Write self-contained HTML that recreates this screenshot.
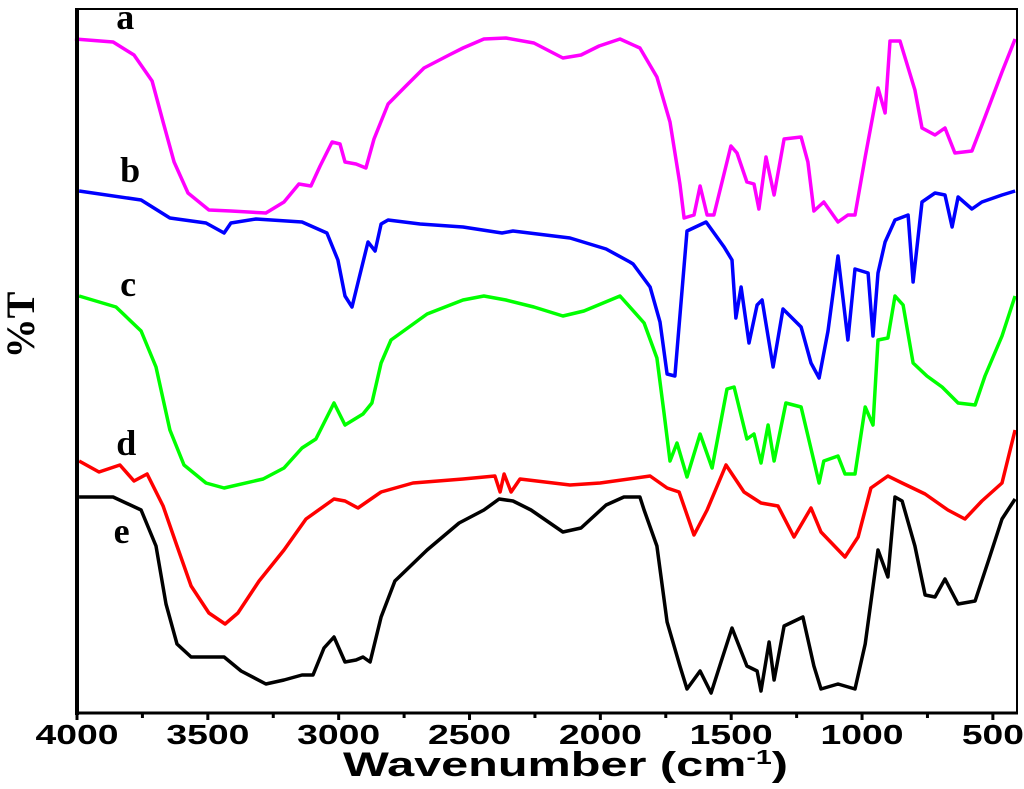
<!DOCTYPE html>
<html><head><meta charset="utf-8"><style>
html,body{margin:0;padding:0;background:#fff;}
svg{display:block;}
</style></head><body>
<svg id="chart" width="1024" height="789" viewBox="0 0 1024 789" xmlns="http://www.w3.org/2000/svg">
  <rect x="0" y="0" width="1024" height="789" fill="#fff"/>
  <g id="plot"></g>
  <rect x="77" y="9" width="940" height="704" fill="none" stroke="#000" stroke-width="2"/>
  <line x1="77" y1="8" x2="77" y2="715" stroke="#000" stroke-width="4"/>
  <line x1="75" y1="713" x2="1018" y2="713" stroke="#000" stroke-width="3"/>
  <g id="ticks"></g>
  <text x="343" y="776" font-family="Liberation Sans, sans-serif" font-weight="bold" font-size="34" textLength="445" lengthAdjust="spacingAndGlyphs">Wavenumber (cm<tspan font-size="20" dy="-12">-1</tspan><tspan dy="12">)</tspan></text>
  <text transform="translate(34,325) rotate(-90)" text-anchor="middle" font-family="Liberation Serif, serif" font-weight="bold" font-size="40">%T</text>
  <g id="labels"></g>
</svg>
<script>
const xTicks = [4000, 3500, 3000, 2500, 2000, 1500, 1000, 500];
const xMinorTicks = [3750, 3250, 2750, 2250, 1750, 1250, 750];
const seriesNames = ['a', 'b', 'c', 'd', 'e'];
const seriesColors = ['#ff00ff', '#0000ff', '#00ff00', '#ff0000', '#000000'];
const seriesA = [[4008,674],[3862,671],[3782,658],[3713,632],[3671,591],[3629,551],[3576,520],[3496,503],[3412,502],[3278,500],[3209,511],[3152,529],[3106,527],[3071,547],[3025,571],[2995,569],[2976,551],[2934,549],[2896,545],[2865,574],[2811,609],[2743,627],[2674,645],[2578,658],[2525,665],[2445,674],[2361,675],[2254,670],[2143,655],[2074,658],[2005,667],[1925,674],[1849,665],[1784,636],[1734,591],[1696,529],[1680,495],[1642,498],[1619,527],[1592,498],[1566,498],[1501,567],[1478,560],[1440,531],[1413,529],[1394,504],[1367,556],[1336,518],[1298,574],[1233,576],[1207,551],[1184,502],[1146,511],[1092,491],[1054,498],[1027,498],[988,556],[939,625],[912,600],[893,672],[855,672],[798,623],[771,585],[721,578],[683,585],[645,560],[580,562],[530,596],[465,641],[415,674]];
const seriesB = [[3992,522],[3755,513],[3645,495],[3507,490],[3438,480],[3412,490],[3316,494],[3140,491],[3045,480],[3003,453],[2976,417],[2949,406],[2922,435],[2888,471],[2861,462],[2838,489],[2811,493],[2689,489],[2525,486],[2376,480],[2334,482],[2116,475],[1978,464],[1887,451],[1875,449],[1810,426],[1772,391],[1745,339],[1715,337],[1669,482],[1596,491],[1527,466],[1497,453],[1482,395],[1462,426],[1432,370],[1401,408],[1382,413],[1340,346],[1302,404],[1233,386],[1195,350],[1164,335],[1130,382],[1092,457],[1054,373],[1027,444],[977,440],[958,377],[939,440],[912,471],[874,493],[824,498],[805,431],[771,511],[721,520],[683,518],[656,486],[633,516],[580,504],[542,511],[465,518],[415,522]];
const seriesC = [[3992,417],[3851,406],[3755,382],[3698,346],[3645,283],[3591,248],[3507,230],[3438,225],[3289,234],[3209,245],[3140,265],[3087,274],[3018,310],[2976,288],[2907,299],[2873,310],[2838,350],[2800,373],[2662,399],[2525,413],[2445,417],[2361,413],[2254,406],[2143,397],[2063,402],[1925,417],[1833,390],[1784,355],[1757,301],[1734,252],[1707,270],[1669,236],[1619,279],[1573,245],[1516,324],[1489,326],[1440,274],[1413,279],[1386,250],[1359,288],[1336,252],[1291,310],[1233,306],[1184,252],[1164,230],[1146,252],[1092,257],[1065,239],[1027,239],[988,306],[958,288],[939,373],[901,375],[874,417],[843,408],[805,350],[752,337],[694,326],[633,310],[568,308],[530,337],[465,377],[415,417]];
const seriesD = [[3992,252],[3916,241],[3836,248],[3782,232],[3732,239],[3671,207],[3618,167],[3564,127],[3496,100],[3434,89],[3385,100],[3304,132],[3209,163],[3125,194],[3018,214],[2976,212],[2926,205],[2838,221],[2716,230],[2525,234],[2403,237],[2383,221],[2368,239],[2341,221],[2307,234],[2116,228],[2001,230],[1810,237],[1745,225],[1699,221],[1642,178],[1592,203],[1520,248],[1451,221],[1386,210],[1321,207],[1260,176],[1195,205],[1157,181],[1065,156],[1015,176],[966,225],[901,237],[847,230],[759,219],[672,203],[607,194],[542,212],[465,230],[415,283]];
const seriesE = [[3992,216],[3862,216],[3755,203],[3698,167],[3660,109],[3618,69],[3564,56],[3438,56],[3373,42],[3278,29],[3209,33],[3140,38],[3098,38],[3056,65],[3018,76],[2976,51],[2934,53],[2907,56],[2880,51],[2838,96],[2785,132],[2662,163],[2540,190],[2445,203],[2387,214],[2334,212],[2265,203],[2143,181],[2074,185],[1978,208],[1910,216],[1849,216],[1833,203],[1784,167],[1745,91],[1696,47],[1669,24],[1619,42],[1577,20],[1539,51],[1497,85],[1440,47],[1401,42],[1386,22],[1355,71],[1336,33],[1298,87],[1226,96],[1184,47],[1157,24],[1092,29],[1027,24],[988,69],[939,163],[901,136],[874,216],[847,212],[798,167],[759,118],[721,116],[683,134],[633,109],[568,112],[515,154],[465,194],[415,214]];
const seriesLabelPos = [3850, 3835, 3835, 3850, 3860];

const NS = 'http://www.w3.org/2000/svg';
function xScale(w){ return 77 + (4000 - w) * 0.26168; }
function yScale(t){ return 713 - t; }

const ticks = document.getElementById('ticks');
xTicks.forEach(function(w){
  const l = document.createElementNS(NS,'line');
  
  
  l.setAttribute('x1',xScale(w)); l.setAttribute('x2',xScale(w));
  l.setAttribute('y1',713); l.setAttribute('y2',720);
  l.setAttribute('stroke','#000'); l.setAttribute('stroke-width','3');
  ticks.appendChild(l);
  const t = document.createElementNS(NS,'text');
  
  
  t.setAttribute('x',xScale(w)); t.setAttribute('y',744);
  t.setAttribute('text-anchor','middle');
  t.setAttribute('font-family','Liberation Sans, sans-serif');
  t.setAttribute('font-weight','bold');
  t.setAttribute('font-size','28');
  const s = String(w);
  t.setAttribute('textLength', s.length === 4 ? 83 : 62);
  t.setAttribute('lengthAdjust','spacingAndGlyphs');
  t.textContent = s;
  ticks.appendChild(t);
});
xMinorTicks.forEach(function(w){
  const l = document.createElementNS(NS,'line');
  
  
  l.setAttribute('x1',xScale(w)); l.setAttribute('x2',xScale(w));
  l.setAttribute('y1',713); l.setAttribute('y2',718);
  l.setAttribute('stroke','#000'); l.setAttribute('stroke-width','3');
  ticks.appendChild(l);
});

const plot = document.getElementById('plot');
const allSeries = [seriesA, seriesB, seriesC, seriesD, seriesE];
allSeries.forEach(function(data, i){
  const p = document.createElementNS(NS,'path');
  
  
  let d = '';
  data.forEach(function(pt, j){
    d += (j ? 'L' : 'M') + xScale(pt[0]).toFixed(1) + ' ' + yScale(pt[1]).toFixed(1);
  });
  p.setAttribute('d', d);
  p.setAttribute('fill','none');
  p.setAttribute('stroke', seriesColors[i]);
  p.setAttribute('stroke-width','3.5');
  p.setAttribute('stroke-linejoin','round');
  plot.appendChild(p);
});

const labelY = [29, 182, 296, 455, 543];
const labels = document.getElementById('labels');
seriesNames.forEach(function(n, i){
  const t = document.createElementNS(NS,'text');
  
  
  t.setAttribute('x', xScale(seriesLabelPos[i]));
  t.setAttribute('y', labelY[i]);
  t.setAttribute('font-family','Liberation Serif, serif');
  t.setAttribute('font-weight','bold');
  t.setAttribute('font-size','36');
  t.textContent = n;
  labels.appendChild(t);
});
</script>
</body></html>
